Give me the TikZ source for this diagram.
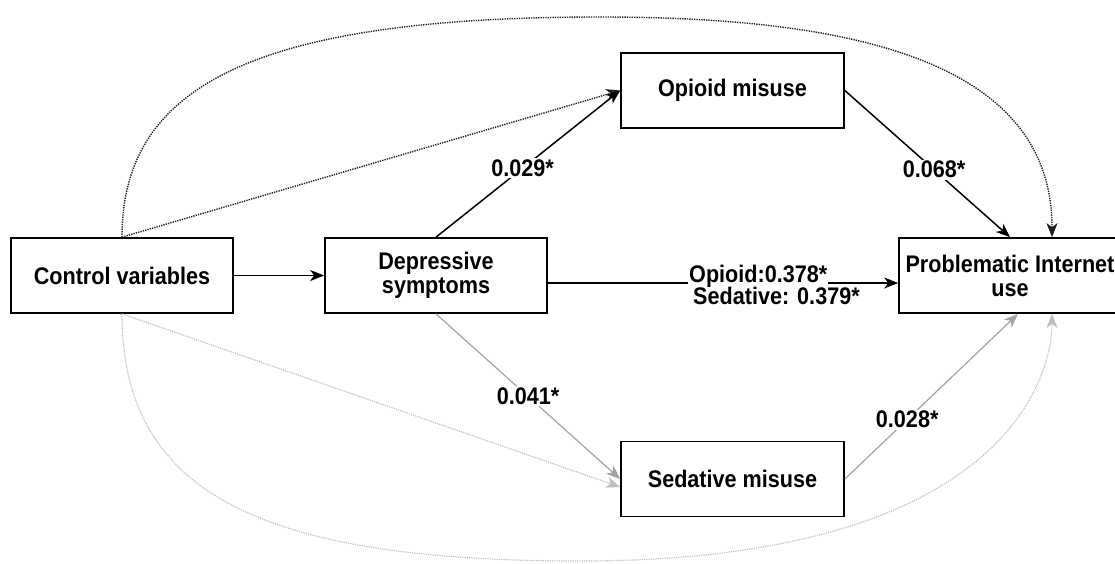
\documentclass[tikz,border=0pt]{standalone}
\usepackage{fontspec}
\setmainfont{Liberation Sans}[FakeStretch=0.9]
\usetikzlibrary{arrows.meta,calc}
\definecolor{garrow}{HTML}{A3A3A3}
\definecolor{gdotc}{HTML}{BEBEBE}
\definecolor{kdot}{HTML}{1E1E1E}
\begin{document}
\begin{tikzpicture}[x=1pt,y=-1pt,
  txt/.style={font=\fontsize{24}{24}\selectfont\bfseries},
  box/.style={txt,draw=black,line width=1.7pt,minimum width=222pt,minimum height=75pt,inner sep=0pt,align=center},
  lbl/.style={txt,fill=white,inner sep=1.5pt},
  arr/.style={line width=1.5pt,-{Stealth[length=14pt,width=11pt,inset=4pt]}},
  kdotted/.style={draw=kdot,line width=1.4pt,dash pattern=on 1.3pt off 1.1pt},
  garr/.style={arr,draw=garrow,line width=1.2pt},
  gdotted/.style={draw=gdotc,line width=1.2pt,dash pattern=on 1.2pt off 1.1pt}
]
\useasboundingbox (0,0) rectangle (1115,563);
\clip (0,0) rectangle (1115,563);

% nodes
\node[box] (ctrl) at (122,275.5) {Control variables};
\node[box] (dep) at (436,275.5) {Depressive\\symptoms};
\node[box,minimum width=223pt] (opi) at (732.5,90.5) {Opioid misuse};
\node[box,minimum width=223pt] (sed) at (732.5,479) {Sedative misuse};
\node[box] (prob) at (1010,275.5) {Problematic Internet\\use};

% black connectors
\draw[arr] (ctrl) -- (dep);
\draw[arr,kdotted] (ctrl.north) -- (opi.west);
\draw[arr,kdotted] (ctrl.north) .. controls (122,88) and (250,17) .. (600,17)
   .. controls (850,17) and (1052,60) .. ([xshift=42pt]prob.north);
\draw[arr] (dep.north) -- node[lbl,pos=.47]{0.029*} (opi.west);
\draw[arr] (opi.east) -- node[lbl,pos=.54]{0.068*} (prob.north);
\draw[arr] ([yshift=-7.5pt]dep.east) -- ([yshift=-7.5pt]prob.west);
\node[lbl,anchor=base west,inner sep=1pt] (l1) at (688,282) {Opioid:0.378*};
\node[txt,anchor=base west,inner sep=1pt] (l2) at (692,304) {Sedative: 0.379*};

% gray connectors
\draw[garr,gdotted] (ctrl.south) -- ([yshift=-8pt]sed.west);
\draw[garr,gdotted] (ctrl.south) .. controls (122,493) and (260,561) .. (580,561)
   .. controls (1000,561) and (1052,380) .. ([xshift=42pt]prob.south);
\draw[garr] (dep.south) -- node[lbl,pos=.5]{0.041*} (sed.west);
\draw[garr] (sed.east) -- node[lbl,pos=.36]{0.028*} ([xshift=8pt]prob.south);
\end{tikzpicture}
\end{document}
